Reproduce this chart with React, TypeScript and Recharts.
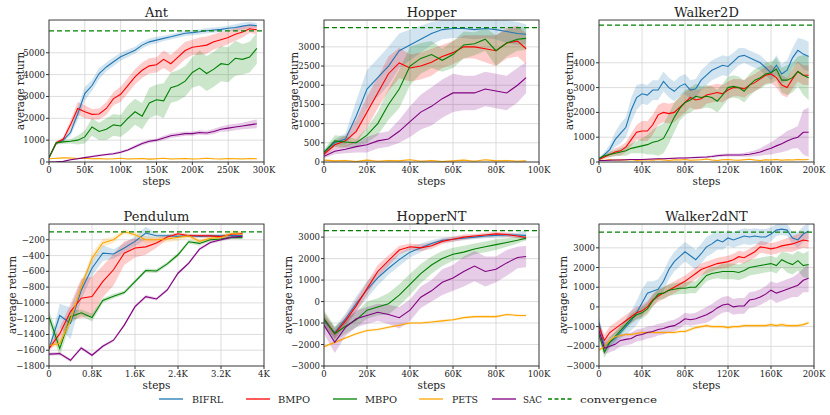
import React from 'react';
import {
  ComposedChart,
  Area,
  Line,
  XAxis,
  YAxis,
  CartesianGrid,
  ReferenceLine,
} from 'recharts';

// ---- algorithms / colours ----
const ALGOS = ['BIFRL', 'BMPO', 'MBPO', 'PETS', 'SAC'];
const COLORS: Record<string, string> = {
  BIFRL: '#1f77b4',
  BMPO: '#ff0000',
  MBPO: '#008000',
  PETS: '#ffa500',
  SAC: '#800080',
};

// ---- Ant (steps in K) ----
const antSteps = [0, 10, 20, 30, 40, 50, 60, 70, 80, 90, 100, 110, 120, 130, 140, 150, 160, 170, 180, 190, 200, 210, 220, 230, 240, 250, 260, 270, 280, 290];
const antBIFRL = [200, 850, 1000, 1350, 2200, 3130, 3500, 4050, 4350, 4590, 4820, 4970, 5120, 5350, 5500, 5580, 5660, 5730, 5810, 5890, 5920, 5960, 6010, 6040, 6070, 6120, 6160, 6220, 6270, 6240];
const antBIFRLSd = [50, 60, 80, 150, 300, 300, 250, 250, 200, 200, 180, 180, 150, 150, 150, 150, 120, 120, 120, 120, 120, 120, 120, 120, 120, 120, 150, 150, 150, 120];
const antBMPO = [200, 870, 1050, 1700, 2450, 2300, 2180, 2200, 2450, 2900, 3100, 3500, 3900, 4200, 4400, 4450, 4700, 4500, 4800, 5100, 5250, 5300, 5350, 5500, 5600, 5700, 5850, 5950, 6100, 6050];
const antBMPOSd = [50, 80, 100, 200, 300, 300, 250, 250, 300, 300, 350, 350, 350, 350, 350, 350, 400, 400, 400, 400, 350, 400, 400, 350, 350, 300, 300, 250, 200, 200];
const antMBPO = [200, 880, 920, 950, 1000, 1150, 1600, 1400, 1500, 1700, 1650, 2000, 2300, 2100, 2700, 2850, 2800, 3400, 3500, 3700, 4100, 4300, 4050, 4250, 4500, 4450, 4750, 4700, 4800, 5200];
const antMBPOSd = [50, 80, 100, 100, 200, 300, 400, 400, 500, 500, 500, 600, 600, 600, 700, 700, 800, 700, 700, 700, 700, 800, 800, 800, 800, 800, 800, 700, 700, 700];
const antPETS = [150, 170, 190, 180, 160, 170, 150, 160, 140, 150, 170, 140, 150, 160, 130, 150, 170, 140, 150, 160, 140, 150, 170, 150, 140, 160, 150, 140, 160, 150];
const antPETSSd = [20, 30, 30, 30, 30, 30, 30, 30, 30, 30, 30, 30, 30, 30, 30, 30, 30, 30, 30, 30, 30, 30, 30, 30, 30, 30, 30, 30, 30, 30];
const antSAC = [0, 10, 30, 100, 150, 200, 250, 300, 340, 380, 450, 550, 700, 850, 950, 1000, 1100, 1200, 1250, 1300, 1300, 1350, 1330, 1400, 1500, 1550, 1600, 1650, 1700, 1750];
const antSACSd = [10, 10, 20, 30, 40, 40, 50, 50, 50, 60, 60, 60, 80, 80, 80, 80, 100, 100, 100, 100, 100, 100, 100, 120, 120, 150, 150, 150, 180, 200];

// ---- Hopper ----
const hopSteps = [0, 5, 10, 15, 20, 25, 30, 35, 40, 45, 50, 55, 60, 65, 70, 75, 80, 85, 90, 94];
const hopBIFRL = [250, 500, 600, 1200, 1900, 2200, 2500, 2900, 3050, 3200, 3350, 3450, 3480, 3480, 3450, 3480, 3450, 3400, 3350, 3330];
const hopBIFRLSd = [50, 100, 150, 400, 500, 500, 500, 450, 400, 350, 300, 250, 250, 250, 250, 250, 250, 300, 300, 250];
const hopBMPO = [200, 450, 550, 800, 1300, 1800, 2300, 2580, 2450, 2500, 2600, 2750, 2850, 3000, 3000, 2950, 2900, 3100, 3150, 2950];
const hopBMPOSd = [50, 100, 150, 300, 400, 400, 450, 400, 350, 350, 350, 300, 300, 300, 300, 350, 400, 400, 400, 400];
const hopMBPO = [250, 550, 520, 500, 700, 1000, 1500, 1900, 2500, 2700, 2800, 2650, 2800, 3050, 3080, 3200, 2900, 3100, 3200, 3220];
const hopMBPOSd = [60, 150, 150, 100, 200, 300, 400, 500, 500, 400, 350, 300, 350, 350, 300, 300, 400, 350, 300, 300];
const hopPETS = [50, 30, 40, 10, 50, 20, 40, 30, 60, 20, 40, 10, 30, 50, 20, 60, 30, 40, 20, 30];
const hopPETSSd = [20, 20, 20, 20, 20, 20, 20, 20, 20, 20, 20, 20, 20, 20, 20, 20, 20, 20, 20, 20];
const hopSAC = [150, 280, 330, 400, 450, 550, 600, 800, 1050, 1300, 1450, 1650, 1800, 1800, 1800, 1900, 1850, 1800, 2000, 2200];
const hopSACSd = [50, 80, 100, 150, 200, 200, 200, 300, 400, 450, 500, 500, 500, 450, 450, 450, 450, 450, 450, 400];

// ---- Walker2D ----
const wlkSteps = [0, 5, 10, 15, 20, 25, 30, 35, 40, 45, 50, 55, 60, 65, 70, 75, 80, 85, 90, 95, 100, 105, 110, 115, 120, 125, 130, 135, 140, 145, 150, 155, 160, 165, 170, 175, 180, 185, 190, 195];
const wlkBIFRL = [100, 300, 500, 900, 1150, 1400, 2100, 2600, 2750, 2700, 2900, 2900, 3250, 3000, 2850, 3050, 3150, 2900, 2950, 3300, 3500, 3700, 3800, 3900, 3850, 4050, 4250, 4300, 4200, 4100, 4000, 3800, 3600, 3900, 3550, 3700, 4200, 4500, 4350, 4250];
const wlkBIFRLSd = [50, 100, 200, 300, 400, 400, 500, 500, 400, 400, 400, 400, 400, 400, 400, 400, 400, 400, 400, 400, 400, 400, 400, 400, 400, 350, 350, 300, 300, 300, 300, 300, 300, 400, 400, 400, 400, 500, 600, 600];
const wlkBMPO = [100, 200, 300, 400, 450, 600, 900, 1200, 1250, 1250, 1500, 1900, 2000, 1950, 2000, 2200, 2400, 2600, 2500, 2550, 2700, 2750, 2800, 2750, 2900, 3000, 3000, 2950, 3100, 3200, 3350, 3500, 3550, 3400, 3100, 3000, 3350, 3650, 3500, 3500];
const wlkBMPOSd = [50, 80, 100, 150, 200, 200, 250, 300, 400, 400, 400, 400, 400, 400, 400, 400, 400, 400, 400, 400, 350, 350, 350, 350, 350, 350, 350, 350, 350, 350, 350, 350, 350, 400, 400, 400, 400, 400, 400, 400];
const wlkMBPO = [150, 250, 300, 350, 400, 450, 550, 600, 650, 700, 800, 850, 950, 1350, 1800, 2150, 2400, 2500, 2650, 2600, 2650, 2600, 2450, 2700, 3000, 3050, 3000, 2850, 3100, 3300, 3400, 3550, 3600, 3750, 3300, 3300, 3400, 3650, 3500, 3400];
const wlkMBPOSd = [50, 80, 100, 120, 150, 200, 200, 250, 300, 400, 500, 600, 600, 600, 600, 500, 500, 500, 500, 450, 450, 450, 450, 450, 450, 450, 450, 450, 450, 450, 450, 450, 450, 450, 500, 600, 600, 600, 800, 900];
const wlkPETS = [80, 60, 100, 70, 90, 80, 100, 60, 80, 90, 70, 100, 80, 60, 90, 80, 100, 70, 80, 90, 120, 80, 60, 90, 100, 80, 70, 90, 110, 80, 60, 90, 80, 100, 70, 90, 80, 100, 90, 100];
const wlkPETSSd = [30, 30, 30, 30, 30, 30, 30, 30, 30, 30, 30, 30, 30, 30, 30, 30, 30, 30, 30, 30, 30, 30, 30, 30, 30, 30, 30, 30, 30, 30, 30, 30, 30, 30, 30, 30, 30, 30, 30, 30];
const wlkSAC = [60, 60, 70, 80, 80, 90, 100, 100, 100, 110, 120, 130, 130, 140, 150, 160, 160, 170, 180, 190, 200, 220, 250, 270, 280, 280, 280, 290, 310, 350, 400, 480, 550, 650, 740, 850, 940, 1000, 1200, 1200];
const wlkSACSd = [20, 20, 20, 20, 20, 20, 20, 20, 20, 20, 30, 30, 30, 30, 30, 30, 30, 30, 40, 40, 40, 50, 60, 60, 60, 60, 60, 80, 100, 120, 150, 200, 250, 300, 350, 400, 400, 450, 900, 1000];

// ---- Pendulum ----
const penSteps = [0, 0.2, 0.4, 0.6, 0.8, 1.0, 1.2, 1.4, 1.6, 1.8, 2.0, 2.2, 2.4, 2.6, 2.8, 3.0, 3.2, 3.4, 3.6];
const penBIFRL = [-1580, -1160, -1260, -840, -560, -370, -380, -305, -220, -115, -148, -148, -157, -148, -157, -150, -150, -145, -145];
const penBIFRLSd = [30, 150, 200, 120, 100, 100, 60, 60, 60, 80, 30, 20, 20, 20, 20, 20, 20, 20, 20];
const penBMPO = [-1580, -1390, -1110, -940, -920, -730, -580, -370, -305, -290, -240, -165, -123, -148, -148, -150, -160, -130, -120];
const penBMPOSd = [30, 80, 100, 250, 250, 200, 200, 150, 120, 100, 60, 30, 20, 20, 20, 20, 20, 20, 20];
const penMBPO = [-1175, -1580, -1175, -1125, -1185, -970, -915, -870, -730, -590, -595, -505, -390, -225, -246, -200, -190, -170, -174];
const penMBPOSd = [80, 100, 80, 40, 50, 30, 30, 25, 25, 25, 25, 25, 25, 25, 25, 20, 20, 20, 20];
const penPETS = [-1540, -1515, -1220, -795, -435, -240, -200, -95, -135, -200, -200, -190, -170, -150, -220, -180, -170, -120, -130];
const penPETSSd = [20, 40, 60, 60, 60, 50, 40, 30, 30, 40, 40, 40, 40, 30, 30, 30, 30, 40, 40];
const penSAC = [-1650, -1643, -1728, -1571, -1664, -1550, -1473, -1282, -1048, -921, -951, -836, -624, -496, -318, -234, -200, -166, -157];
const penSACSd = [20, 20, 20, 20, 20, 20, 20, 20, 20, 20, 20, 20, 20, 20, 20, 20, 20, 20, 20];

// ---- HopperNT ----
const hntSteps = [0, 5, 10, 15, 20, 25, 30, 35, 40, 45, 50, 55, 60, 65, 70, 75, 80, 85, 90, 94];
const hntBIFRL = [-900, -1450, -800, -100, 550, 1100, 1550, 1950, 2300, 2500, 2700, 2850, 2900, 2950, 3000, 3050, 3080, 3100, 3100, 3080];
const hntBIFRLSd = [300, 250, 250, 350, 400, 350, 300, 300, 250, 200, 150, 120, 120, 100, 100, 100, 100, 100, 100, 250];
const hntBMPO = [-800, -1500, -900, -200, 600, 1400, 1900, 2400, 2550, 2500, 2600, 2800, 2900, 3000, 3050, 3100, 3150, 3120, 3050, 2980];
const hntBMPOSd = [300, 250, 250, 300, 300, 300, 250, 200, 150, 150, 150, 120, 120, 120, 100, 100, 100, 100, 100, 100];
const hntMBPO = [-800, -1500, -1150, -850, -400, -250, -100, 300, 800, 1300, 1700, 2000, 2200, 2300, 2450, 2550, 2650, 2750, 2850, 2950];
const hntMBPOSd = [400, 350, 350, 350, 400, 400, 500, 500, 500, 450, 400, 350, 300, 300, 250, 250, 250, 200, 150, 100];
const hntPETS = [-2100, -1900, -1700, -1500, -1350, -1300, -1200, -1100, -1000, -1000, -950, -900, -850, -750, -700, -700, -700, -600, -650, -650];
const hntPETSSd = [60, 60, 60, 60, 60, 60, 60, 60, 60, 60, 60, 60, 60, 60, 60, 60, 60, 60, 60, 60];
const hntSAC = [-1100, -1900, -1200, -800, -650, -500, -600, -750, -400, 200, 500, 900, 1100, 1400, 1650, 1400, 1500, 1800, 2050, 2100];
const hntSACSd = [400, 500, 400, 400, 400, 400, 450, 500, 500, 500, 500, 600, 600, 700, 700, 700, 600, 600, 500, 500];

// ---- Walker2dNT ----
const w2nSteps = [0, 5, 10, 15, 20, 25, 30, 35, 40, 45, 50, 55, 60, 65, 70, 75, 80, 85, 90, 95, 100, 105, 110, 115, 120, 125, 130, 135, 140, 145, 150, 155, 160, 165, 170, 175, 180, 185, 190, 195];
const w2nBIFRL = [-800, -2000, -1800, -1600, -1300, -1000, -700, -300, 200, 700, 800, 900, 1300, 1900, 2300, 2550, 2800, 2600, 2400, 2700, 3050, 3200, 3400, 3300, 3500, 3400, 3500, 3600, 3550, 3600, 3550, 3550, 3700, 3900, 3950, 3900, 3500, 3400, 3700, 3850];
const w2nBIFRLSd = [300, 300, 300, 300, 300, 400, 500, 600, 700, 600, 500, 500, 500, 500, 500, 500, 500, 500, 500, 500, 500, 500, 500, 400, 400, 400, 400, 400, 400, 400, 400, 400, 350, 300, 300, 300, 300, 400, 400, 400];
const w2nBMPO = [-1000, -1700, -1300, -1100, -900, -700, -500, -300, -200, 0, 350, 550, 700, 850, 1000, 1150, 1300, 1500, 1700, 1900, 2000, 2100, 2200, 2250, 2300, 2400, 2550, 2500, 2650, 2800, 3050, 3000, 2950, 3000, 3100, 3150, 3200, 3300, 3400, 3350];
const w2nBMPOSd = [300, 300, 300, 300, 300, 300, 300, 300, 300, 300, 300, 300, 300, 300, 300, 300, 300, 300, 300, 300, 300, 300, 300, 300, 300, 300, 300, 300, 300, 300, 300, 300, 300, 300, 300, 350, 400, 400, 400, 400];
const w2nMBPO = [-1400, -2300, -1800, -1500, -1200, -900, -600, -400, -300, -100, 300, 650, 700, 850, 900, 950, 950, 1000, 1000, 1300, 1600, 1700, 1750, 1800, 1800, 1800, 1750, 1850, 2000, 2050, 2100, 2150, 2200, 2100, 2400, 2250, 2150, 2350, 2100, 2150];
const w2nMBPOSd = [300, 300, 250, 250, 250, 250, 250, 250, 300, 300, 300, 300, 300, 300, 300, 300, 300, 300, 300, 300, 300, 300, 300, 400, 400, 400, 400, 400, 400, 400, 400, 400, 400, 400, 400, 500, 500, 500, 600, 700];
const w2nPETS = [-2200, -2000, -1700, -1500, -1450, -1400, -1400, -1350, -1300, -1300, -1300, -1300, -1300, -1300, -1300, -1250, -1250, -1150, -1050, -1000, -950, -1000, -1000, -1000, -1050, -1000, -1000, -950, -950, -950, -950, -950, -900, -950, -900, -950, -950, -950, -900, -800];
const w2nPETSSd = [80, 80, 80, 80, 80, 80, 80, 80, 80, 80, 80, 80, 80, 80, 80, 80, 80, 80, 80, 80, 80, 80, 80, 80, 80, 80, 80, 80, 80, 80, 80, 80, 80, 80, 80, 80, 80, 80, 80, 80];
const w2nSAC = [-1200, -2100, -2000, -1900, -1700, -1650, -1600, -1450, -1400, -1300, -1250, -1150, -1100, -1000, -950, -800, -600, -650, -600, -500, -400, -250, -50, 100, 150, 0, 50, 50, 350, 400, 500, 650, 850, 700, 800, 900, 1000, 1100, 1350, 1450];
const w2nSACSd = [200, 300, 300, 300, 300, 300, 300, 300, 300, 300, 300, 300, 300, 300, 300, 300, 300, 300, 300, 350, 400, 400, 400, 400, 400, 400, 400, 400, 400, 400, 400, 400, 450, 500, 500, 500, 500, 600, 600, 700];

// ---- ticks ----
const xTicks300 = [0, 50, 100, 150, 200, 250, 300];
const xTicks100 = [0, 20, 40, 60, 80, 100];
const xTicks200 = [0, 40, 80, 120, 160, 200];
const xTicksPen = [0, 0.8, 1.6, 2.4, 3.2, 4];
const yTicksAnt = [0, 1000, 2000, 3000, 4000, 5000];
const yTicksHop = [0, 500, 1000, 1500, 2000, 2500, 3000];
const yTicksWlk = [0, 1000, 2000, 3000, 4000];
const yTicksPen = [-1800, -1600, -1400, -1200, -1000, -800, -600, -400, -200];
const yTicksNT = [-3000, -2000, -1000, 0, 1000, 2000, 3000];

// ---- layout ----
const FONT = 'DejaVu Serif';
const PLOT_W = 215;
const PLOT_H = 142;
const COL_X = [49, 324, 599];
const ROW_Y = [20, 224];
const Y_AXIS_W = 45;
const X_AXIS_H = 25;
const RIGHT_PAD = 15;

interface Env {
  title: string;
  col: number;
  row: number;
  ylabelX: number;
  steps: number[];
  means: Record<string, number[]>;
  sds: Record<string, number[]>;
  xDomain: [number, number];
  xTicks: number[];
  yDomain: [number, number];
  yTicks: number[];
  conv: number;
}

const ENVS: Env[] = [
  {
    title: 'Ant', col: 0, row: 0, ylabelX: 20, steps: antSteps,
    means: { BIFRL: antBIFRL, BMPO: antBMPO, MBPO: antMBPO, PETS: antPETS, SAC: antSAC },
    sds: { BIFRL: antBIFRLSd, BMPO: antBMPOSd, MBPO: antMBPOSd, PETS: antPETSSd, SAC: antSACSd },
    xDomain: [0, 300], xTicks: xTicks300, yDomain: [0, 6500], yTicks: yTicksAnt, conv: 6000,
  },
  {
    title: 'Hopper', col: 1, row: 0, ylabelX: 294, steps: hopSteps,
    means: { BIFRL: hopBIFRL, BMPO: hopBMPO, MBPO: hopMBPO, PETS: hopPETS, SAC: hopSAC },
    sds: { BIFRL: hopBIFRLSd, BMPO: hopBMPOSd, MBPO: hopMBPOSd, PETS: hopPETSSd, SAC: hopSACSd },
    xDomain: [0, 100], xTicks: xTicks100, yDomain: [0, 3700], yTicks: yTicksHop, conv: 3500,
  },
  {
    title: 'Walker2D', col: 2, row: 0, ylabelX: 569, steps: wlkSteps,
    means: { BIFRL: wlkBIFRL, BMPO: wlkBMPO, MBPO: wlkMBPO, PETS: wlkPETS, SAC: wlkSAC },
    sds: { BIFRL: wlkBIFRLSd, BMPO: wlkBMPOSd, MBPO: wlkMBPOSd, PETS: wlkPETSSd, SAC: wlkSACSd },
    xDomain: [0, 200], xTicks: xTicks200, yDomain: [0, 5725], yTicks: yTicksWlk, conv: 5520,
  },
  {
    title: 'Pendulum', col: 0, row: 1, ylabelX: 12, steps: penSteps,
    means: { BIFRL: penBIFRL, BMPO: penBMPO, MBPO: penMBPO, PETS: penPETS, SAC: penSAC },
    sds: { BIFRL: penBIFRLSd, BMPO: penBMPOSd, MBPO: penMBPOSd, PETS: penPETSSd, SAC: penSACSd },
    xDomain: [0, 4], xTicks: xTicksPen, yDomain: [-1800, 0], yTicks: yTicksPen, conv: -100,
  },
  {
    title: 'HopperNT', col: 1, row: 1, ylabelX: 288, steps: hntSteps,
    means: { BIFRL: hntBIFRL, BMPO: hntBMPO, MBPO: hntMBPO, PETS: hntPETS, SAC: hntSAC },
    sds: { BIFRL: hntBIFRLSd, BMPO: hntBMPOSd, MBPO: hntMBPOSd, PETS: hntPETSSd, SAC: hntSACSd },
    xDomain: [0, 100], xTicks: xTicks100, yDomain: [-3000, 3610], yTicks: yTicksNT, conv: 3300,
  },
  {
    title: 'Walker2dNT', col: 2, row: 1, ylabelX: 563, steps: w2nSteps,
    means: { BIFRL: w2nBIFRL, BMPO: w2nBMPO, MBPO: w2nMBPO, PETS: w2nPETS, SAC: w2nSAC },
    sds: { BIFRL: w2nBIFRLSd, BMPO: w2nBMPOSd, MBPO: w2nMBPOSd, PETS: w2nPETSSd, SAC: w2nSACSd },
    xDomain: [0, 200], xTicks: xTicks200, yDomain: [-3000, 4210], yTicks: yTicksNT, conv: 3800,
  },
];

const fmtX = (v: number) => (v === 0 ? '0' : `${v}K`);
const fmtY = (v: number) => (v < 0 ? `\u2212${Math.abs(v)}` : `${v}`);

const tickStyle = { fontSize: 8.5, fill: '#222', fontFamily: FONT };

function Panel({ env }: { env: Env }) {
  const left = COL_X[env.col];
  const top = ROW_Y[env.row];
  const data = env.steps.map((s, i) => {
    const row: Record<string, any> = { x: s };
    ALGOS.forEach((a) => {
      const m = env.means[a][i];
      const sd = env.sds[a][i];
      row[a] = m;
      row[a + '_band'] = [m - sd, m + sd];
    });
    return row;
  });

  return (
    <div style={{ position: 'absolute', left: left - Y_AXIS_W, top }}>
      <ComposedChart
        width={Y_AXIS_W + PLOT_W + RIGHT_PAD}
        height={PLOT_H + X_AXIS_H}
        data={data}
        margin={{ top: 0, right: RIGHT_PAD, bottom: 0, left: 0 }}
      >
        <CartesianGrid stroke="#d4d4d4" strokeWidth={0.8} />
        <XAxis
          dataKey="x"
          type="number"
          domain={env.xDomain}
          ticks={env.xTicks}
          interval={0}
          allowDataOverflow
          height={X_AXIS_H}
          tickSize={3}
          tickMargin={1.5}
          axisLine={false}
          tickLine={{ stroke: '#333' }}
          tick={tickStyle}
          tickFormatter={fmtX}
        />
        <YAxis
          type="number"
          domain={env.yDomain}
          ticks={env.yTicks}
          interval={0}
          allowDataOverflow
          width={Y_AXIS_W}
          tickSize={3}
          tickMargin={1}
          axisLine={false}
          tickLine={{ stroke: '#333' }}
          tick={tickStyle}
          tickFormatter={fmtY}
        />
        {ALGOS.map((a) => (
          <Area
            key={a + '_band'}
            type="linear"
            dataKey={a + '_band'}
            stroke="none"
            fill={COLORS[a]}
            fillOpacity={0.2}
            dot={false}
            activeDot={false}
            isAnimationActive={false}
          />
        ))}
        {ALGOS.map((a) => (
          <Line
            key={a}
            type="linear"
            dataKey={a}
            stroke={COLORS[a]}
            strokeWidth={1.1}
            dot={false}
            activeDot={false}
            isAnimationActive={false}
          />
        ))}
        <ReferenceLine y={env.conv} stroke="#008000" strokeWidth={1.2} strokeDasharray="5 3" />
      </ComposedChart>
    </div>
  );
}

// legend layout
const LEGEND_Y = 399;
const LEGEND_LINE_X = [159, 246, 333, 419, 492, 548];
const LEGEND_TEXT_X = [192, 278, 365, 452, 523, 580];
const LEGEND_TEXT_W = [31, 32, 32, 26, 19, 77];

function Overlay() {
  return (
    <svg
      width={830}
      height={415}
      style={{ position: 'absolute', left: 0, top: 0, pointerEvents: 'none' }}
    >
      {ENVS.map((env) => {
        const left = COL_X[env.col];
        const top = ROW_Y[env.row];
        const cy = top + PLOT_H / 2;
        return (
          <g key={env.title}>
            <rect x={left} y={top} width={PLOT_W} height={PLOT_H} fill="none" stroke="#333" strokeWidth={0.9} />
            <text x={left + PLOT_W / 2} y={top - 3} textAnchor="middle" fontSize={13} fill="#222" fontFamily={FONT}>
              {env.title}
            </text>
            <text x={left + PLOT_W / 2} y={top + PLOT_H + 22.5} textAnchor="middle" fontSize={10.5} fill="#222" fontFamily={FONT}>
              steps
            </text>
            <text
              x={env.ylabelX}
              y={cy}
              textAnchor="middle"
              dominantBaseline="central"
              fontSize={10.5}
              fill="#222"
              fontFamily={FONT}
              textLength={78}
              lengthAdjust="spacingAndGlyphs"
              transform={`rotate(-90 ${env.ylabelX} ${cy})`}
            >
              average return
            </text>
          </g>
        );
      })}
      {[...ALGOS, 'convergence'].map((name, i) => {
        const isConv = name === 'convergence';
        return (
          <g key={name}>
            <line
              x1={LEGEND_LINE_X[i]}
              x2={LEGEND_LINE_X[i] + 24}
              y1={LEGEND_Y}
              y2={LEGEND_Y}
              stroke={isConv ? '#008000' : COLORS[name]}
              strokeWidth={1.3}
              strokeDasharray={isConv ? '4 2.5' : undefined}
            />
            <text
              x={LEGEND_TEXT_X[i]}
              y={LEGEND_Y}
              dominantBaseline="central"
              fontSize={isConv ? 9.5 : 10}
              fill="#222"
              fontFamily={FONT}
              textLength={LEGEND_TEXT_W[i]}
              lengthAdjust="spacingAndGlyphs"
            >
              {name}
            </text>
          </g>
        );
      })}
    </svg>
  );
}

export default function App() {
  return (
    <div
      style={{
        position: 'absolute',
        left: 0,
        top: 0,
        width: 830,
        height: 415,
        background: '#fff',
        fontFamily: FONT,
      }}
    >
      {ENVS.map((env) => (
        <Panel key={env.title} env={env} />
      ))}
      <Overlay />
    </div>
  );
}
